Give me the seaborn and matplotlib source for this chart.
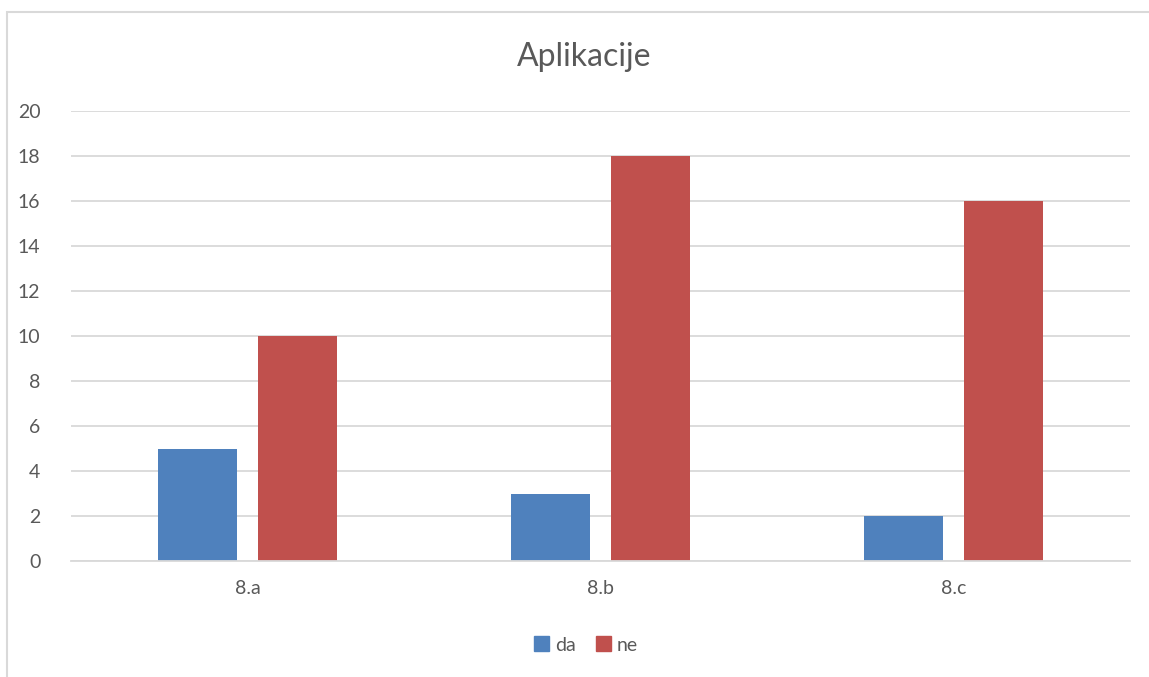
import pandas as pd
import matplotlib.pyplot as plt
import seaborn as sns
from matplotlib.patches import Rectangle

# podaci
razredi = ['8.a', '8.b', '8.c']
da = [5, 3, 2]
ne = [10, 18, 16]

df = pd.DataFrame({
    'razred': razredi * 2,
    'broj': da + ne,
    'odgovor': ['da'] * 3 + ['ne'] * 3,
})

sns.set_style("white")
plt.rcParams['font.family'] = ['Lato', 'DejaVu Sans']

fig = plt.figure(figsize=(11.49, 6.77), dpi=100)
ax = fig.add_axes([71 / 1149, 1 - 561 / 677, (1130 - 71) / 1149, (561 - 111) / 677])

sns.barplot(data=df, x='razred', y='broj', hue='odgovor', ax=ax,
            palette={'da': '#4F81BD', 'ne': '#C0504D'},
            width=0.568, gap=0.21, saturation=1, legend=False, linewidth=0)

ax.set_ylim(0, 20)
ax.set_xlim(-0.5, 2.5)
ax.set_yticks(range(0, 21, 2))
ax.yaxis.grid(True, color='#D9D9D9', linewidth=1.3)
ax.set_axisbelow(True)
for s in ['top', 'right', 'left']:
    ax.spines[s].set_visible(False)
ax.spines['bottom'].set_color('#D9D9D9')
ax.spines['bottom'].set_linewidth(1.3)
ax.tick_params(axis='both', length=0, labelsize=14, colors='#595959')
ax.tick_params(axis='y', pad=22)
ax.tick_params(axis='x', pad=14)
ax.set_xlabel('')
ax.set_ylabel('')

fig.text(0.508, 1 - 57 / 677, 'Aplikacije', ha='center', va='center',
         fontsize=23, color='#595959')

# legenda
handles = [Rectangle((0, 0), 1, 1, color='#4F81BD'),
           Rectangle((0, 0), 1, 1, color='#C0504D')]
fig.legend(handles, ['da', 'ne'], loc='center', bbox_to_anchor=(0.51, 1 - 645 / 677),
           ncol=2, frameon=False, fontsize=14, labelcolor='#595959',
           handlelength=0.8, handleheight=0.8, handletextpad=0.3, columnspacing=1.0)

# okvir grafikona
fig.patches.append(Rectangle((7 / 1149, -0.1), 1.2, 1 - 12 / 677 + 0.1,
                             transform=fig.transFigure, fill=False,
                             edgecolor='#D9D9D9', linewidth=1.5))

fig.savefig('out.png', dpi=100)
